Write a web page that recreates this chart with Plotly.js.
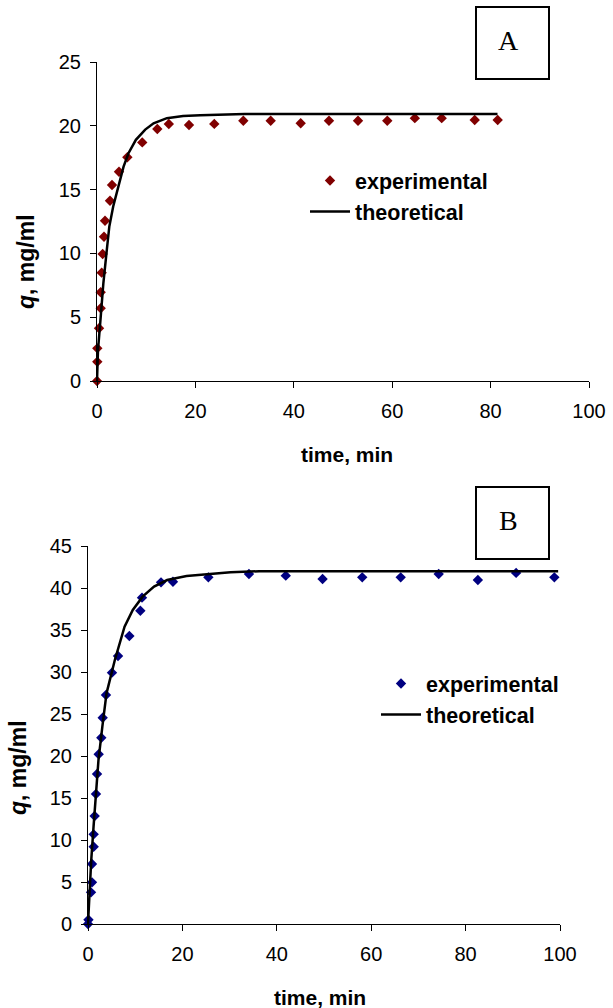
<!DOCTYPE html>
<html>
<head>
<meta charset="utf-8">
<script src="https://cdn.plot.ly/plotly-3.0.1.min.js"></script>
<style>html,body{margin:0;padding:0;background:#fff;}#chart{width:613px;height:1008px;}</style>
</head>
<body>
<div id="chart"></div>
<script>
// Panel A data
var timeA = [0, 0.06, 0.06, 0.41, 0.75, 0.75, 0.95, 1.15, 1.42, 1.63, 2.64, 3.05, 4.47, 6.17, 9.2, 12.26, 14.6, 18.7, 23.84, 29.74, 35.3, 41.4, 47.15, 53.05, 59.0, 64.6, 70.06, 76.77, 81.44];
var qA = [0, 1.51, 2.56, 4.13, 5.70, 6.95, 8.49, 9.95, 11.31, 12.56, 14.13, 15.36, 16.4, 17.53, 18.7, 19.75, 20.14, 20.06, 20.15, 20.4, 20.4, 20.2, 20.4, 20.4, 20.4, 20.6, 20.6, 20.45, 20.45];
var timeAfit = [0, 0.2, 0.75, 1.3, 2.0, 2.5, 3.3, 4.5, 5.4, 6.4, 7.9, 9.8, 11.5, 14.2, 17.5, 21, 25, 30, 40, 60, 81.4];
var qAfit = [0, 2.4, 5.0, 7.7, 10.3, 12.1, 13.7, 15.5, 16.8, 17.85, 18.9, 19.7, 20.2, 20.6, 20.77, 20.82, 20.85, 20.92, 20.92, 20.92, 20.92];

// Panel B data
var timeB = [0, 0.1, 0.64, 0.85, 0.85, 1.2, 1.2, 1.41, 1.69, 1.91, 2.26, 2.82, 3.11, 3.81, 5.08, 6.36, 8.76, 11.09, 11.44, 15.47, 18.0, 25.5, 34.1, 41.9, 49.7, 58.1, 66.25, 74.3, 82.6, 90.7, 98.8];
var qB = [0, 0.5, 3.77, 4.96, 7.14, 9.2, 10.67, 12.86, 15.48, 17.86, 20.2, 22.18, 24.56, 27.26, 29.92, 31.9, 34.29, 37.3, 38.85, 40.67, 40.75, 41.27, 41.67, 41.47, 41.07, 41.27, 41.27, 41.67, 40.95, 41.8, 41.27];
var timeBfit = [0, 0.28, 0.7, 1.2, 1.69, 2.26, 3.1, 4.0, 5.8, 7.9, 9.68, 11.8, 14.27, 17.1, 21.3, 24.15, 30.8, 37, 50, 70, 90, 101.6];
var qBfit = [0, 3.65, 7.6, 11.6, 15.56, 19.5, 23.5, 27.46, 31.43, 35.4, 37.38, 38.97, 40.16, 40.95, 41.43, 41.58, 41.87, 42.0, 42.0, 42.0, 42.0, 42.0];

var xTicks = [0, 20, 40, 60, 80, 100];
var yTicksA = [0, 5, 10, 15, 20, 25];
var yTicksB = [0, 5, 10, 15, 20, 25, 30, 35, 40, 45];

var W = 613, H = 1008;
function px(x){ return x / W; }
function py(y){ return (H - y) / H; }

var FAM = 'Arial, "Liberation Sans", sans-serif';
var tickFont = {family: FAM, size: 20, color: '#000'};
var yTitleFont = {family: FAM, size: 23, color: '#000'};
var xTitleFont = {family: FAM, size: 21, color: '#000'};
var legFont = {family: FAM, size: 21.5, color: '#000', weight: 'bold'};

var traces = [
  {x: timeA, y: qA, type: 'scatter', mode: 'markers', name: 'experimental',
   marker: {symbol: 'diamond', size: 8, color: '#800000'}, xaxis: 'x', yaxis: 'y', cliponaxis: false, legend: 'legend'},
  {x: timeAfit, y: qAfit, type: 'scatter', mode: 'lines', name: 'theoretical',
   line: {color: '#000', width: 2.5}, xaxis: 'x', yaxis: 'y', legend: 'legend'},
  {x: timeB, y: qB, type: 'scatter', mode: 'markers', name: 'experimental',
   marker: {symbol: 'diamond', size: 8, color: '#000080'}, xaxis: 'x2', yaxis: 'y2', cliponaxis: false, legend: 'legend2'},
  {x: timeBfit, y: qBfit, type: 'scatter', mode: 'lines', name: 'theoretical',
   line: {color: '#000', width: 2.5}, xaxis: 'x3', yaxis: 'y2', legend: 'legend2'}
];

function xax(dom, anchor, range){
  return {domain: dom, anchor: anchor, range: range, tickvals: xTicks, ticktext: xTicks.map(String),
    showgrid: false, zeroline: false, showline: true, linecolor: '#000', linewidth: 1,
    ticks: 'outside', ticklen: 6, tickcolor: '#000', tickfont: tickFont, ticklabelstandoff: 6, fixedrange: true};
}
function yax(dom, anchor, range, tv){
  return {domain: dom, anchor: anchor, range: range, tickvals: tv, ticktext: tv.map(String),
    showgrid: false, zeroline: false, showline: true, linecolor: '#000', linewidth: 1,
    ticks: 'outside', ticklen: 6, tickcolor: '#000', tickfont: tickFont, ticklabelstandoff: 5, fixedrange: true};
}

var domAx = [px(97), px(589)];
var domBx = [px(88), px(560)];
var domBx3 = [px(88), px(88) + (px(560) - px(88)) * 1.02];

var x3 = xax(domBx3, 'y2', [0, 102]);
x3.visible = false; x3.overlaying = 'x2';

var layout = {
  width: W, height: H,
  margin: {l: 0, r: 0, t: 0, b: 0},
  paper_bgcolor: '#fff', plot_bgcolor: 'rgba(0,0,0,0)',
  font: {family: FAM, color: '#000'},
  xaxis: xax(domAx, 'y', [0, 100]),
  yaxis: yax([py(381), py(62)], 'x', [0, 25], yTicksA),
  xaxis2: xax(domBx, 'y2', [0, 100]),
  yaxis2: yax([py(924), py(546)], 'x2', [0, 45], yTicksB),
  xaxis3: x3,
  legend: {x: px(305), y: py(160), xanchor: 'left', yanchor: 'top', bgcolor: 'rgba(0,0,0,0)',
    font: legFont, itemwidth: 40, tracegroupgap: 0},
  legend2: {x: px(376), y: py(663), xanchor: 'left', yanchor: 'top', bgcolor: 'rgba(0,0,0,0)',
    font: legFont, itemwidth: 40, tracegroupgap: 0},
  shapes: [
    {type: 'rect', xref: 'paper', yref: 'paper', x0: px(476), x1: px(549), y0: py(79), y1: py(7), line: {color: '#000', width: 2}},
    {type: 'rect', xref: 'paper', yref: 'paper', x0: px(476), x1: px(549), y0: py(559), y1: py(487), line: {color: '#000', width: 2}}
  ],
  annotations: [
    {text: 'A', xref: 'paper', yref: 'paper', x: px(508), y: py(41), xanchor: 'center', yanchor: 'middle', showarrow: false,
     font: {family: '"Liberation Serif", "Times New Roman", serif', size: 28, color: '#000'}},
    {text: 'B', xref: 'paper', yref: 'paper', x: px(508), y: py(520), xanchor: 'center', yanchor: 'middle', showarrow: false,
     font: {family: '"Liberation Serif", "Times New Roman", serif', size: 28, color: '#000'}},
    {text: '<b><i>q</i>, mg/ml</b>', xref: 'paper', yref: 'paper', x: px(26), y: py(262), textangle: -90, xanchor: 'center', yanchor: 'middle', showarrow: false, font: yTitleFont},
    {text: '<b><i>q</i>, mg/ml</b>', xref: 'paper', yref: 'paper', x: px(18), y: py(768), textangle: -90, xanchor: 'center', yanchor: 'middle', showarrow: false, font: yTitleFont},
    {text: '<b>time, min</b>', xref: 'paper', yref: 'paper', x: px(347), y: py(455), xanchor: 'center', yanchor: 'middle', showarrow: false, font: xTitleFont},
    {text: '<b>time, min</b>', xref: 'paper', yref: 'paper', x: px(320), y: py(997), xanchor: 'center', yanchor: 'middle', showarrow: false, font: xTitleFont}
  ]
};

Plotly.newPlot('chart', traces, layout, {staticPlot: true, displayModeBar: false});
</script>
</body>
</html>
